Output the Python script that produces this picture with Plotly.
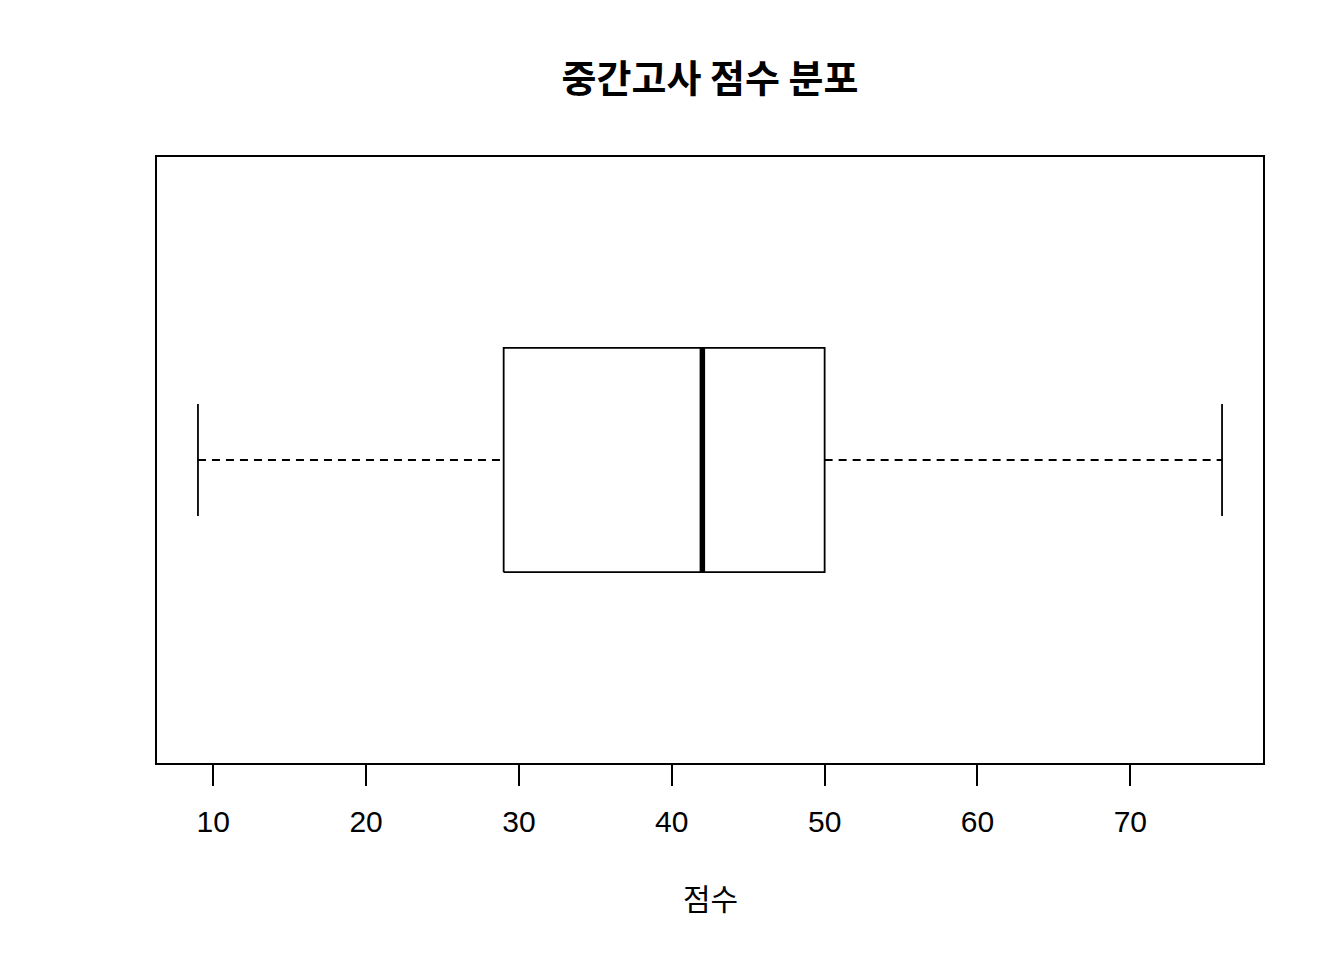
import plotly.graph_objects as go

# Five-number summary
stat_names = ["min", "q1", "median", "q3", "max"]
stat_values = [9, 29, 42, 50, 76]
tick_values = [10, 20, 30, 40, 50, 60, 70]
tick_labels = ["10", "20", "30", "40", "50", "60", "70"]

title_text = "중간고사 점수 분포"
xlabel_text = "점수"

lo, q1, med, q3, hi = stat_values
pos = 1.0
half_box = 0.2
half_staple = 0.1

fig = go.Figure()
line_style = dict(color="black", width=1.8)
dash_style = dict(color="black", width=1.8, dash="8px,6px")

# whiskers (dashed)
fig.add_trace(go.Scatter(x=[lo, q1], y=[pos, pos], mode="lines", line=dash_style))
fig.add_trace(go.Scatter(x=[q3, hi], y=[pos, pos], mode="lines", line=dash_style))
# staples
for v in (lo, hi):
    fig.add_trace(go.Scatter(x=[v, v], y=[pos - half_staple, pos + half_staple],
                             mode="lines", line=line_style))
# box
fig.add_trace(go.Scatter(x=[q1, q3, q3, q1, q1],
                         y=[pos - half_box, pos - half_box, pos + half_box, pos + half_box, pos - half_box],
                         mode="lines", line=line_style))
# median
fig.add_trace(go.Scatter(x=[med, med], y=[pos - half_box, pos + half_box],
                         mode="lines", line=dict(color="black", width=5.5)))

span = hi - lo
fig.update_layout(
    width=1344, height=960,
    margin=dict(l=157, r=81, t=157, b=197),
    paper_bgcolor="white", plot_bgcolor="white",
    showlegend=False,
    font=dict(family="Liberation Sans, Arial, sans-serif", color="black"),
    title=dict(text=title_text, x=(157 + 553) / 1344, xanchor="center",
               y=1 - 79 / 960, yanchor="middle",
               font=dict(family="Noto Sans CJK KR", size=38, weight="bold", color="black")),
    xaxis=dict(range=[lo - 0.04 * span, hi + 0.04 * span],
               tickvals=tick_values, ticktext=tick_labels,
               ticks="outside", ticklen=21, tickwidth=1.8, tickcolor="black",
               tickfont=dict(family="Liberation Sans", size=30, color="black"),
               showgrid=False, zeroline=False,
               showline=True, mirror=True, linecolor="black", linewidth=1.8,
               ticklabelstandoff=10),
    yaxis=dict(range=[0.46, 1.54], showticklabels=False, ticks="",
               showgrid=False, zeroline=False,
               showline=True, mirror=True, linecolor="black", linewidth=1.8),
    annotations=[dict(text=xlabel_text, xref="paper", yref="paper", x=0.5, y=0,
                      yshift=-134, xanchor="center", yanchor="middle", showarrow=False,
                      font=dict(family="Noto Sans CJK KR", size=30, color="black"))],
)

fig.write_html("out.html")
